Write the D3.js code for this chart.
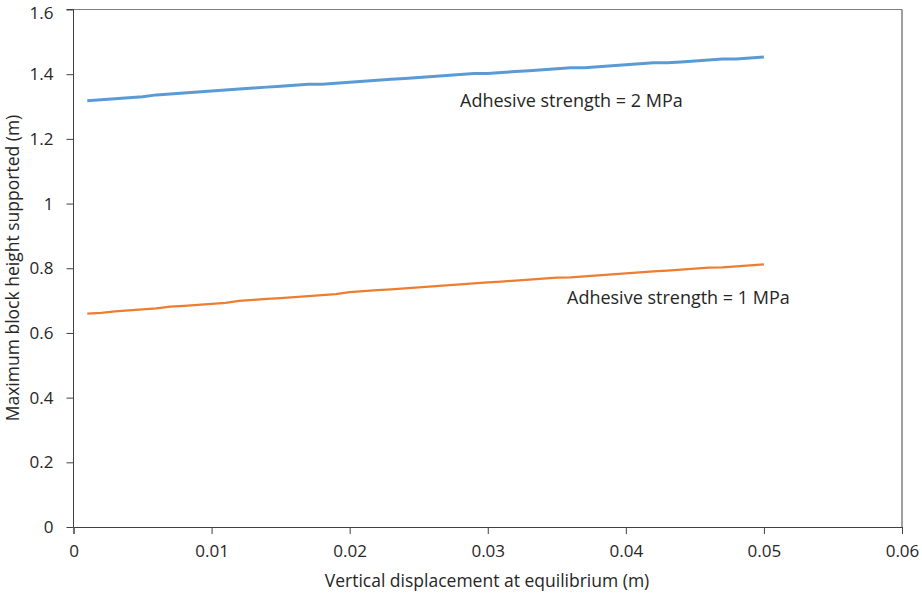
<!DOCTYPE html>
<html>
<head>
<meta charset="utf-8">
<script src="https://cdn.jsdelivr.net/npm/d3@7"></script>
<style>
body{margin:0;background:#fff;}
text{font-family:"Open Sans",sans-serif;fill:#262626;}
</style>
</head>
<body>
<svg id="chart" width="922" height="597"></svg>
<script>
const displacement = [0.001,0.002,0.003,0.004,0.005,0.006,0.007,0.008,0.009,0.010,
0.011,0.012,0.013,0.014,0.015,0.016,0.017,0.018,0.019,0.020,
0.021,0.022,0.023,0.024,0.025,0.026,0.027,0.028,0.029,0.030,
0.031,0.032,0.033,0.034,0.035,0.036,0.037,0.038,0.039,0.040,
0.041,0.042,0.043,0.044,0.045,0.046,0.047,0.048,0.049,0.050];

const height2MPa = [1.318,1.321,1.324,1.327,1.330,1.336,1.339,1.342,1.345,1.348,
1.351,1.354,1.357,1.360,1.363,1.366,1.369,1.369,1.372,1.375,
1.378,1.381,1.384,1.387,1.390,1.393,1.396,1.399,1.402,1.402,
1.405,1.408,1.411,1.414,1.417,1.420,1.420,1.423,1.426,1.429,
1.432,1.435,1.435,1.438,1.441,1.444,1.447,1.447,1.450,1.453];

const height1MPa = [0.660,0.662,0.667,0.670,0.673,0.676,0.681,0.684,0.687,0.690,
0.693,0.699,0.702,0.705,0.708,0.711,0.714,0.717,0.720,0.726,
0.729,0.732,0.735,0.738,0.741,0.744,0.747,0.750,0.753,0.756,
0.759,0.762,0.765,0.768,0.771,0.772,0.775,0.778,0.781,0.784,
0.787,0.790,0.793,0.796,0.799,0.802,0.803,0.806,0.809,0.812];

const xTicks = [0,0.01,0.02,0.03,0.04,0.05,0.06];
const yTicks = [0,0.2,0.4,0.6,0.8,1,1.2,1.4,1.6];

const svg = d3.select("#chart");
const x = d3.scaleLinear().domain([0,0.06]).range([73.5,902]);
const y = d3.scaleLinear().domain([0,1.6]).range([527,9.5]);

// plot frame top / right
svg.append("line").attr("x1",x(0)).attr("x2",x(0.06)).attr("y1",y(1.6)).attr("y2",y(1.6))
.attr("stroke","#808080").attr("stroke-width",1);
svg.append("line").attr("x1",x(0.06)).attr("x2",x(0.06)).attr("y1",y(1.6)).attr("y2",y(0))
.attr("stroke","#404040").attr("stroke-width",1);

const xAxis = svg.append("g").attr("transform",`translate(0,${y(0)})`)
.call(d3.axisBottom(x).tickValues(xTicks).tickSize(7).tickPadding(11).tickFormat(d=>d===0?"0":d3.format(".2f")(d)));
const yAxis = svg.append("g").attr("transform",`translate(${x(0)},0)`)
.call(d3.axisLeft(y).tickValues(yTicks).tickSize(7).tickPadding(13).tickFormat(d=>String(d)));

[xAxis,yAxis].forEach(a=>{
    a.select(".domain").attr("stroke","#404040");
    a.selectAll(".tick line").attr("stroke","#404040");
    a.selectAll("text").style("font-family","'Open Sans',sans-serif").style("font-size","17px").attr("fill","#262626");
});
yAxis.select(".domain").attr("d",`M-7,${y(1.6)}H0V${y(0)}`);
// keep top label inside the picture
yAxis.selectAll(".tick text").filter(d=>d===1.6).attr("dy","0.5em");

const line = d3.line().x((d,i)=>x(displacement[i])).y(d=>y(d));

svg.append("path").datum(height2MPa).attr("d",line)
.attr("fill","none").attr("stroke","#5b9bd5").attr("stroke-width",3);
svg.append("path").datum(height1MPa).attr("d",line)
.attr("fill","none").attr("stroke","#ed7d31").attr("stroke-width",2.25);

svg.append("text").attr("x",460).attr("y",107).style("font-size","18px").text("Adhesive strength = 2 MPa");
svg.append("text").attr("x",567).attr("y",304).style("font-size","18px").text("Adhesive strength = 1 MPa");

svg.append("text").attr("x",487).attr("y",587).attr("text-anchor","middle").style("font-size","17.5px")
.text("Vertical displacement at equilibrium (m)");
svg.append("text").attr("transform","translate(19,268) rotate(-90)").attr("text-anchor","middle").style("font-size","17.5px")
.text("Maximum block height supported (m)");
</script>
</body>
</html>
